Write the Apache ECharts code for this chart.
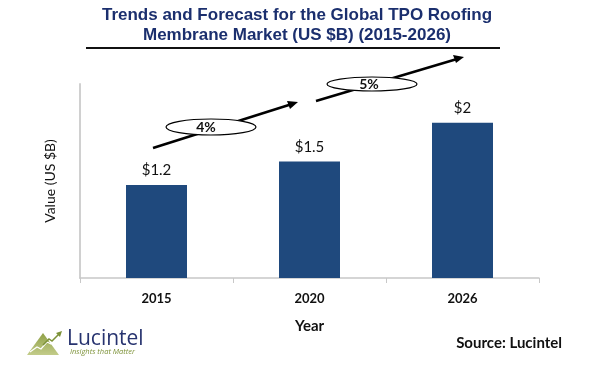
<!DOCTYPE html>
<html><head><meta charset="utf-8">
<script src="https://cdn.jsdelivr.net/npm/echarts@6/dist/echarts.min.js"></script>
<style>html,body{margin:0;padding:0;background:#fff}#c{width:589px;height:381px}</style>
</head><body><div id="c"></div>
<script>
const categories = ['2015', '2020', '2026'];
const values = [1.2, 1.5, 2.0];
const valueLabels = ['$1.2', '$1.5', '$2'];
const growthLabels = ['4%', '5%'];

const chart = echarts.init(document.getElementById('c'), null, {renderer: 'canvas'});
const lbl = 'Lato, "Open Sans", sans-serif';
chart.setOption({
  animation: false,
  grid: {left: 80, right: 50, top: 84, bottom: 103},
  title: {
    text: 'Trends and Forecast for the Global TPO Roofing\nMembrane Market (US $B) (2015-2026)',
    left: 292, textAlign: 'center', top: 0,
    textStyle: {fontFamily: '"Liberation Sans", Arial, sans-serif', fontWeight: 'bold', fontSize: 17, color: '#1B2F6E', lineHeight: 20}
  },
  xAxis: {
    type: 'category', data: categories,
    name: 'Year', nameLocation: 'middle', nameGap: 41,
    nameTextStyle: {fontFamily: lbl, fontWeight: 'bold', fontSize: 15, color: '#111'},
    axisLine: {lineStyle: {color: '#c8c8c8', width: 1.5}},
    axisTick: {show: true, length: 5, lineStyle: {color: '#c8c8c8'}},
    axisLabel: {fontFamily: lbl, fontWeight: 'bold', fontSize: 13, color: '#111', margin: 14}
  },
  yAxis: {
    type: 'value', min: 0, max: 2.5,
    name: 'Value (US $B)', nameLocation: 'middle', nameGap: 23, nameRotate: 90,
    nameTextStyle: {fontFamily: lbl, fontSize: 14, color: '#111'},
    axisLine: {show: true, lineStyle: {color: '#d0d0d0', width: 2}},
    axisTick: {show: false}, axisLabel: {show: false}, splitLine: {show: false}
  },
  series: [{
    type: 'bar', data: values, barWidth: 61,
    itemStyle: {color: '#1F497D'},
    label: {show: true, position: 'top', distance: 7, fontFamily: lbl, fontSize: 15, color: '#111',
      formatter: p => valueLabels[p.dataIndex]}
  }],
  graphic: [
    {type: 'line', shape: {x1: 86, y1: 48, x2: 500, y2: 48}, style: {stroke: '#111', lineWidth: 2}},
    {type: 'line', shape: {x1: 153, y1: 148, x2: 292, y2: 104}, style: {stroke: '#000', lineWidth: 2.5}},
    {type: 'polygon', shape: {points: [[298, 102], [287, 101], [290, 109]]}, style: {fill: '#000'}},
    {type: 'line', shape: {x1: 316, y1: 101, x2: 457, y2: 59}, style: {stroke: '#000', lineWidth: 2.5}},
    {type: 'polygon', shape: {points: [[464, 57], [453, 55], [456, 63]]}, style: {fill: '#000'}},
    {type: 'ellipse', shape: {cx: 211, cy: 127, rx: 45, ry: 8}, style: {fill: '#fff', stroke: '#000', lineWidth: 1.2}},
    {type: 'text', x: 206, y: 127, style: {text: growthLabels[0], fontFamily: lbl, fontWeight: 'bold', fontSize: 14, fill: '#111', textAlign: 'center', textVerticalAlign: 'middle'}},
    {type: 'ellipse', shape: {cx: 372, cy: 84, rx: 45, ry: 7}, style: {fill: '#fff', stroke: '#000', lineWidth: 1.2}},
    {type: 'text', x: 369, y: 84, style: {text: growthLabels[1], fontFamily: lbl, fontWeight: 'bold', fontSize: 14, fill: '#111', textAlign: 'center', textVerticalAlign: 'middle'}},
    {type: 'text', x: 562, y: 343, style: {text: 'Source: Lucintel', fontFamily: lbl, fontWeight: 'bold', fontSize: 15, fill: '#111', textAlign: 'right', textVerticalAlign: 'middle'}},
    {type: 'polygon', shape: {points: [[27, 355], [43, 333], [59, 355]]},
      style: {fill: new echarts.graphic.LinearGradient(0, 0, 0, 1, [{offset: 0, color: '#8FA046'}, {offset: 1, color: '#C3CC8A'}])}},
    {type: 'polyline', shape: {points: [[30, 352], [37, 347], [41, 349], [47, 342], [51, 344], [58, 336]]}, style: {stroke: '#fff', lineWidth: 1.2, fill: null}},
    {type: 'polyline', shape: {points: [[43, 345], [49, 339], [52, 341], [59, 334]]}, style: {stroke: '#7D9238', lineWidth: 1.5, fill: null}},
    {type: 'polygon', shape: {points: [[62, 331], [56, 333], [60, 337]]}, style: {fill: '#7D9238'}},
    {type: 'text', x: 67, y: 339, style: {text: 'Lucintel', fontFamily: '"Open Sans", sans-serif', fontWeight: 500, fontSize: 21, fill: '#27336F', textVerticalAlign: 'middle'}},
    {type: 'text', x: 70, y: 352, style: {text: 'Insights that Matter', fontFamily: '"Open Sans", sans-serif', fontStyle: 'italic', fontSize: 7.5, fill: '#7D9238', textVerticalAlign: 'middle'}}
  ]
});
</script></body></html>
